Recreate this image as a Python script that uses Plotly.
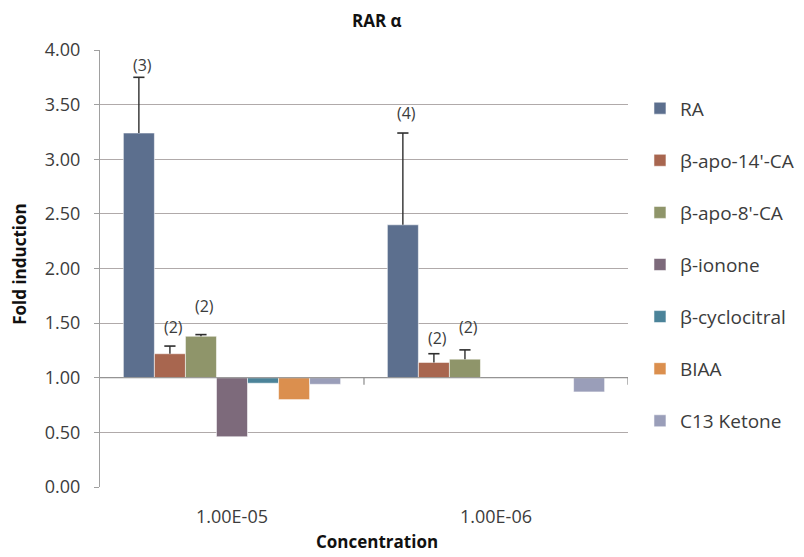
import plotly.graph_objects as go

# Concentrations on the category axis
concentrations = ["1.00E-05", "1.00E-06"]

# Compounds (one bar series each)
compounds = ["RA", "β-apo-14'-CA", "β-apo-8'-CA", "β-ionone",
             "β-cyclocitral", "BIAA", "C13 Ketone"]

# Fold induction per compound at each concentration (None = no bar)
fold_ra = [3.24, 2.40]
fold_apo14 = [1.22, 1.14]
fold_apo8 = [1.38, 1.17]
fold_ionone = [0.46, None]
fold_cyclocitral = [0.95, None]
fold_biaa = [0.80, None]
fold_c13 = [0.94, 0.87]

# Upper error (SEM) per compound
err_ra = [0.51, 0.84]
err_apo14 = [0.07, 0.08]
err_apo8 = [0.015, 0.085]

# Number of experiments printed above bars: (compound index, concentration index, n)
n_labels = [(0, 0, "(3)"), (1, 0, "(2)"), (2, 0, "(2)"),
            (0, 1, "(4)"), (1, 1, "(2)"), (2, 1, "(2)")]

# Y axis ticks
y_ticks = [0, 0.5, 1, 1.5, 2, 2.5, 3, 3.5, 4]
y_ticktext = ["0.00", "0.50", "1.00", "1.50", "2.00", "2.50", "3.00", "3.50", "4.00"]

BASELINE = 1.0

values = [fold_ra, fold_apo14, fold_apo8, fold_ionone, fold_cyclocitral, fold_biaa, fold_c13]
errors = [err_ra, err_apo14, err_apo8, None, None, None, None]
colors = ["#5c6f8e", "#a8664f", "#8f956a", "#7d6a7b", "#4b8399", "#db8f4e", "#9a9eb9"]
label_yshift = {(0, 0): 12, (1, 0): 19, (2, 0): 29, (0, 1): 20, (1, 1): 16, (2, 1): 23}

TEXT = "#3c3c3c"
FONT = "Open Sans"
GRID = "#b0aaaa"
ERR = "#2e2e2e"
BARGAP = 0.177

x_pos = list(range(len(concentrations)))
n_series = len(compounds)
bar_w = (1 - BARGAP) / n_series


def bar_center(ci, xi):
    return x_pos[xi] + (ci - (n_series - 1) / 2) * bar_w


fig = go.Figure()

for i, (name, vals, err, col) in enumerate(zip(compounds, values, errors, colors)):
    heights = [None if v is None else v - BASELINE for v in vals]
    # upward-only stem, no cap at the bar top
    err_y = dict(visible=False)
    if err is not None:
        err_y = dict(type="data", symmetric=False, array=err, arrayminus=[0] * len(err),
                     color=ERR, thickness=1.4, width=0, visible=True)
    fig.add_trace(go.Bar(
        x=x_pos, y=heights, base=BASELINE, name=name,
        marker=dict(color=col, line=dict(color="rgba(255,255,255,0.55)", width=1)),
        error_y=err_y, legendgroup=name,
    ))

# caps at the top of each error bar
cap_x, cap_y = [], []
for ci, err in enumerate(errors):
    if err is None:
        continue
    for xi, e in enumerate(err):
        if values[ci][xi] is None:
            continue
        cap_x.append(bar_center(ci, xi))
        cap_y.append(values[ci][xi] + e)
fig.add_trace(go.Scatter(
    x=cap_x, y=cap_y, mode="markers", showlegend=False, hoverinfo="skip",
    marker=dict(symbol="line-ew-open", size=8, color=ERR, line=dict(color=ERR, width=1.6)),
))

# n labels above the error bars
annotations = []
for ci, xi, txt in n_labels:
    top = values[ci][xi] + (errors[ci][xi] if errors[ci] is not None else 0)
    annotations.append(dict(
        x=bar_center(ci, xi) + 0.012, y=top,
        xref="x", yref="y", text=txt, showarrow=False,
        xanchor="center", yanchor="middle", yshift=label_yshift[(ci, xi)],
        font=dict(family=FONT, size=16, color=TEXT),
    ))

# Chart and axis titles
annotations += [
    dict(text="<b>RAR α</b>", x=0.525, y=1.068, xref="paper", yref="paper",
         xanchor="center", yanchor="middle",
         showarrow=False, font=dict(family=FONT, size=17, color="#111")),
    dict(text="<b>Fold induction</b>", x=-0.154, y=0.51, xref="paper", yref="paper",
         xanchor="center", yanchor="middle",
         showarrow=False, textangle=-90, font=dict(family=FONT, size=17, color="#111")),
    dict(text="<b>Concentration</b>", x=0.525, y=-0.124, xref="paper", yref="paper",
         xanchor="center", yanchor="middle",
         showarrow=False, font=dict(family=FONT, size=17, color="#111")),
]

# Category axis drawn through y = 1 with tick marks between categories
shapes = [dict(type="line", xref="paper", yref="y", x0=0, x1=1, y0=BASELINE, y1=BASELINE,
               line=dict(color="#8c8c8c", width=1.2))]
for xb in [0.5, 1.5]:
    shapes.append(dict(type="line", xref="x", yref="y", x0=xb, x1=xb,
                       ysizemode="pixel", yanchor=BASELINE, y0=0, y1=-7,
                       line=dict(color="#8c8c8c", width=1.2)))

fig.update_layout(
    width=804, height=557,
    margin=dict(l=100, r=171, t=50, b=70),
    paper_bgcolor="white", plot_bgcolor="white",
    barmode="group", bargap=BARGAP, bargroupgap=0,
    showlegend=True,
    legend=dict(xref="container", x=0.796, xanchor="left",
                yref="paper", y=0.91, yanchor="top",
                font=dict(family=FONT, size=19, color=TEXT),
                tracegroupgap=24.4, itemwidth=30, bgcolor="rgba(0,0,0,0)"),
    xaxis=dict(range=[-0.5, 1.5], tickvals=x_pos, ticktext=concentrations,
               showgrid=False, zeroline=False, showline=False, ticks="",
               ticklabelstandoff=17,
               tickfont=dict(family=FONT, size=18, color=TEXT)),
    yaxis=dict(range=[0, 4], tickvals=y_ticks, ticktext=y_ticktext,
               showgrid=True, gridcolor=GRID, gridwidth=1, zeroline=False,
               showline=True, linecolor="#a0a0a0", linewidth=1,
               ticks="outside", ticklen=5, tickcolor="#a0a0a0",
               ticklabelstandoff=10,
               tickfont=dict(family=FONT, size=18, color=TEXT)),
    annotations=annotations, shapes=shapes,
)

fig.write_html("out.html")
